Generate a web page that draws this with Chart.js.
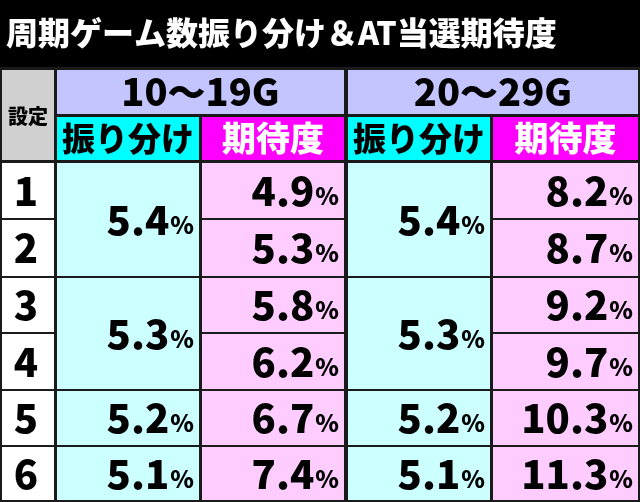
<!DOCTYPE html>
<html><head><meta charset="utf-8">
<script src="https://cdn.jsdelivr.net/npm/chart.js@4"></script>
<style>html,body{margin:0;padding:0;background:#000}#wrap{width:640px;height:502px}</style>
</head><body><div id="wrap"><canvas id="c"></canvas></div>
<script>
const title = '周期ゲーム数振り分け＆AT当選期待度';
const groups = ['10～19G', '20～29G'];
const subHeads = ['振り分け', '期待度'];
const settings = ['1', '2', '3', '4', '5', '6'];
const dist10 = [5.4, 5.4, 5.3, 5.3, 5.2, 5.1];
const exp10 = [4.9, 5.3, 5.8, 6.2, 6.7, 7.4];
const dist20 = [5.4, 5.4, 5.3, 5.3, 5.2, 5.1];
const exp20 = [8.2, 8.7, 9.2, 9.7, 10.3, 11.3];
// which rows share a merged distribution cell
const distSpans = [[0, 1], [2, 3], [4, 4], [5, 5]];

// layout in pixel units of the scales
const colEdges = [[2, 54], [57, 199], [202, 344], [348, 490], [493, 638]];
const rowEdges = [[163, 218], [220, 276], [278, 332], [334, 389], [391, 445], [447, 500]];
const FONT = "'Noto Sans CJK JP', 'Noto Sans', sans-serif";

const tablePlugin = {
    id: 'table',
    afterDraw(chart) {
        const ctx = chart.ctx, xs = chart.scales.x, ys = chart.scales.y;
        const X = v => xs.getPixelForValue(v), Y = v => ys.getPixelForValue(v);
        function box(x0, x1, y0, y1, fill) {
            ctx.fillStyle = fill;
            ctx.fillRect(X(x0), Y(y0), X(x1) - X(x0), Y(y1) - Y(y0));
        }
        function text(s, x, y, size, color, align) {
            ctx.font = '900 ' + size + 'px ' + FONT;
            ctx.fillStyle = color;
            ctx.textAlign = align || 'center';
            ctx.textBaseline = 'middle';
            ctx.fillText(s, X(x), Y(y));
        }
        function pct(v, xr, y) {
            ctx.textBaseline = 'middle';
            ctx.textAlign = 'right';
            ctx.font = '900 24px ' + FONT;
            ctx.fillStyle = '#000';
            const pw = ctx.measureText('%').width;
            ctx.fillText('%', X(xr), Y(y) + 5);
            ctx.font = '900 40px ' + FONT;
            ctx.fillText(v.toFixed(1), X(xr) - pw - 1, Y(y));
        }
        ctx.save();
        box(0, 640, 0, 502, '#1a1a1a');
        box(0, 640, 0, 67, '#000');
        text(title, 6, 33, 32, '#fff', 'left');

        box(2, 54, 70, 160, '#d0d0d0');
        text('設定', 28, 116, 20, '#000');
        groups.forEach((g, i) => {
            const c1 = colEdges[1 + i * 2], c2 = colEdges[2 + i * 2];
            box(c1[0], c2[1], 70, 114, '#c4c4ff');
            text(g, (c1[0] + c2[1]) / 2, 92, 38, '#000');
            box(c1[0], c1[1], 117, 160, '#00ffff');
            text(subHeads[0], (c1[0] + c1[1]) / 2, 138, 33, '#000');
            box(c2[0], c2[1], 117, 160, '#ff00ff');
            text(subHeads[1], (c2[0] + c2[1]) / 2, 138, 34, '#fff');
        });

        settings.forEach((s, r) => {
            const [y0, y1] = rowEdges[r];
            box(2, 54, y0, y1, '#fff');
            text(s, 26, (y0 + y1) / 2, 40, '#000');
        });

        [[dist10, exp10], [dist20, exp20]].forEach(([dist, exp], i) => {
            const cd = colEdges[1 + i * 2], ce = colEdges[2 + i * 2];
            distSpans.forEach(([a, b]) => {
                const y0 = rowEdges[a][0], y1 = rowEdges[b][1];
                box(cd[0], cd[1], y0, y1, '#ccffff');
                pct(dist[a], cd[1] - 5, (y0 + y1) / 2);
            });
            exp.forEach((v, r) => {
                const [y0, y1] = rowEdges[r];
                box(ce[0], ce[1], y0, y1, '#ffccff');
                pct(v, ce[1] - 5, (y0 + y1) / 2);
            });
        });
        ctx.restore();
    }
};

new Chart(document.getElementById('c'), {
    type: 'scatter',
    data: { datasets: [{ data: [] }] },
    options: {
        responsive: true,
        maintainAspectRatio: false,
        animation: false,
        layout: { padding: 0 },
        plugins: { legend: { display: false }, tooltip: { enabled: false } },
        scales: {
            x: { type: 'linear', min: 0, max: 640, display: false },
            y: { type: 'linear', min: 0, max: 502, reverse: true, display: false }
        }
    },
    plugins: [tablePlugin]
});
</script></body></html>
